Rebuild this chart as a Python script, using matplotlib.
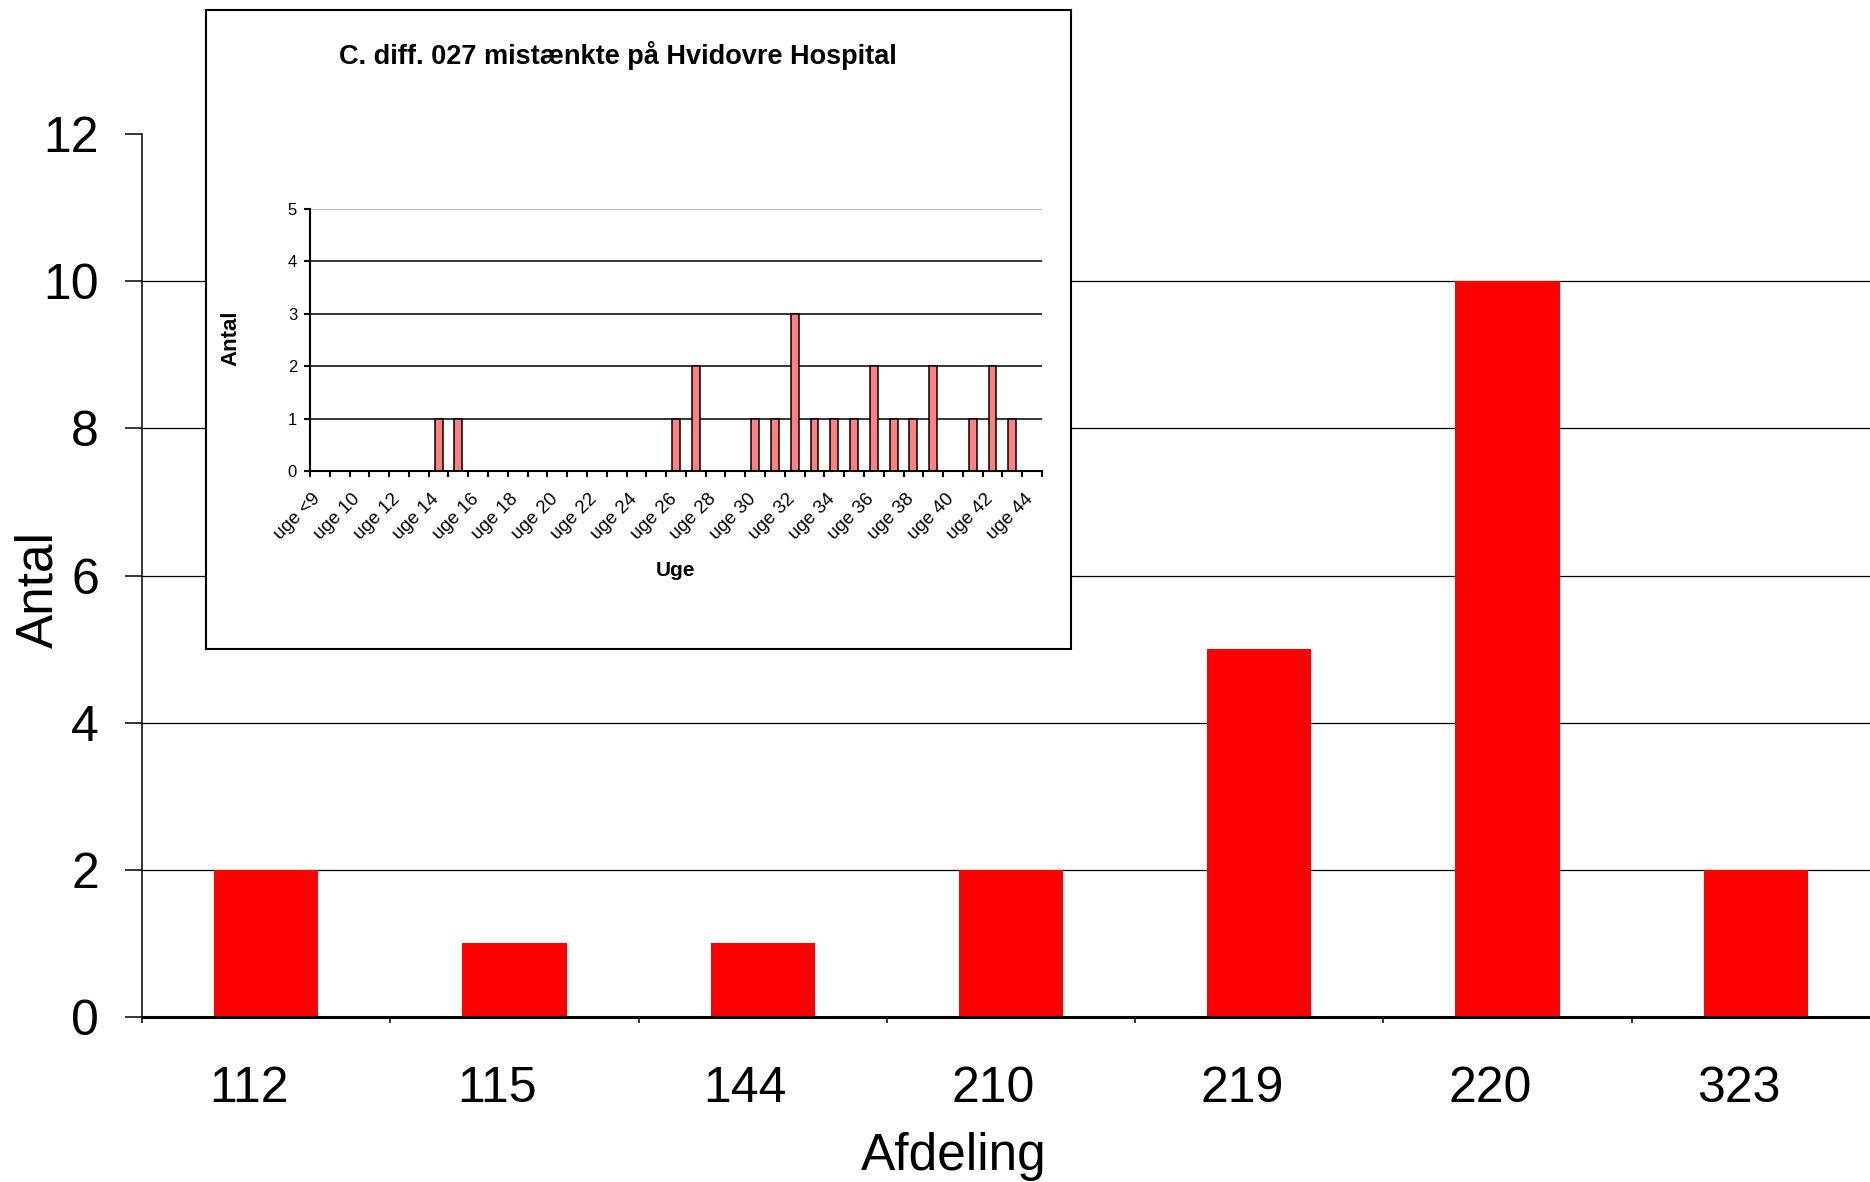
import matplotlib.pyplot as plt
import numpy as np

plt.rcParams['font.family'] = ['Liberation Sans', 'DejaVu Sans']

# main chart: cases per department
afdeling = ['112', '115', '144', '210', '219', '220', '323']
antal = [2, 1, 1, 2, 5, 10, 2]

# inset: cases per week
uger = ['uge <9', 'uge 9', 'uge 10', 'uge 11', 'uge 12', 'uge 13', 'uge 14',
        'uge 15', 'uge 16', 'uge 17', 'uge 18', 'uge 19', 'uge 20', 'uge 21',
        'uge 22', 'uge 23', 'uge 24', 'uge 25', 'uge 26', 'uge 27', 'uge 28',
        'uge 29', 'uge 30', 'uge 31', 'uge 32', 'uge 33', 'uge 34', 'uge 35',
        'uge 36', 'uge 37', 'uge 38', 'uge 39', 'uge 40', 'uge 41', 'uge 42',
        'uge 43', 'uge 44']
uge_antal = [0, 0, 0, 0, 0, 0, 1, 1, 0, 0, 0, 0, 0, 0, 0, 0, 0, 0, 1, 2, 0,
             0, 1, 1, 3, 1, 1, 1, 2, 1, 1, 2, 0, 1, 2, 1, 0]

inset_title = 'C. diff. 027 mistænkte på Hvidovre Hospital'

W, H = 1870, 1182
fig = plt.figure(figsize=(W / 100, H / 100), dpi=100)

# ---- main axes (runs slightly past the right edge, like the source)
ax = fig.add_axes([142 / W, 165 / H, 1738 / W, 883 / H])
x = np.arange(len(afdeling))
ax.bar(x, antal, width=0.42, color='#ff0000', zorder=3)
ax.set_xlim(-0.5, len(afdeling) - 0.5)
ax.set_ylim(0, 12)
ax.set_yticks(range(0, 13, 2))
for y in ax.get_yticks()[1:-1]:
    ax.axhline(y, color='black', lw=0.9, zorder=1)
ax.spines['top'].set_visible(False)
ax.spines['right'].set_visible(False)
ax.spines['left'].set_linewidth(1.1)
ax.spines['bottom'].set_linewidth(2.2)
ax.spines['bottom'].set_zorder(4)

ax.set_xticks(x - 0.07, afdeling)
ax.set_xticks(np.arange(-0.5, len(afdeling), 1), minor=True)
ax.tick_params(axis='x', which='major', length=0, pad=35, labelsize=36)
ax.tick_params(axis='x', which='minor', length=4.5, width=1.1, direction='out')
ax.tick_params(axis='y', length=12, width=1.1, pad=19, labelsize=36)

ax.set_xlabel('Afdeling', fontsize=37)
ax.xaxis.set_label_coords(0.467, -0.13)
ax.set_ylabel('Antal', fontsize=37)
ax.yaxis.set_label_coords(-0.045, 0.484)

# ---- inset frame
box = fig.add_axes([206 / W, (H - 649) / H, 865 / W, 639.5 / H])
box.set_xticks([])
box.set_yticks([])
for s in box.spines.values():
    s.set_linewidth(1.5)
box.set_facecolor('white')

fig.text(618 / W, 1 - 55 / H, inset_title, ha='center', va='center',
         fontsize=19.5, fontweight='bold')

# ---- inset chart
ax2 = fig.add_axes([310 / W, (H - 471) / H, 732 / W, 262 / H])
ax2.set_facecolor('none')
xi = np.arange(len(uger))
ax2.bar(xi, uge_antal, width=0.4, color='#ff8080', edgecolor='black',
        linewidth=1.1, zorder=3)
ax2.set_xlim(-0.5, len(uger) - 0.5)
ax2.set_ylim(0, 5)
ax2.set_yticks(range(0, 6))
for y in range(1, 5):
    ax2.axhline(y, color='black', lw=1.1, zorder=1)
ax2.axhline(5, color='#c0c0c0', lw=0.8, zorder=1)
ax2.spines['top'].set_visible(False)
ax2.spines['right'].set_visible(False)
ax2.spines['left'].set_linewidth(1.5)
ax2.spines['bottom'].set_linewidth(1.5)
ax2.spines['bottom'].set_zorder(4)

ax2.set_xticks(xi[::2] - 0.4, uger[::2])
ax2.set_xticks(np.arange(-0.5, len(uger), 1), minor=True)
ax2.tick_params(axis='x', which='major', length=0, pad=14, labelsize=13.5)
ax2.tick_params(axis='x', which='minor', length=4.3, width=1.5, direction='out')
ax2.tick_params(axis='y', length=4.3, width=1.5, pad=5, labelsize=12)
plt.setp(ax2.get_xticklabels(), rotation=45, ha='right', rotation_mode='anchor')

ax2.set_xlabel('Uge', fontsize=15, fontweight='bold')
ax2.xaxis.set_label_coords(0.5, -0.345)
ax2.set_ylabel('Antal', fontsize=16, fontweight='bold')
ax2.yaxis.set_label_coords(-0.094, 0.506)

fig.savefig('out.png', dpi=100)
